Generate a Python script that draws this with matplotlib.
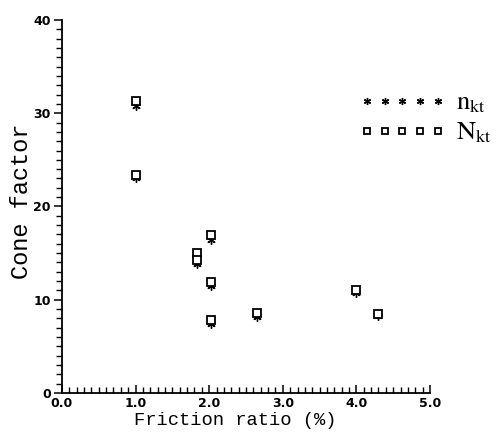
import numpy as np
import matplotlib
matplotlib.use("Agg")
import matplotlib.pyplot as plt
from matplotlib.ticker import MultipleLocator, FormatStrFormatter

plt.rcParams["mathtext.fontset"] = "stix"

# values
friction_ratio = [1.0, 1.0, 1.83, 1.83, 2.02, 2.02, 2.02, 2.65, 4.0, 4.29]
N_kt = [31.3, 23.4, 15.0, 14.3, 16.9, 11.9, 7.8, 8.6, 11.0, 8.5]
n_kt = [30.8, 23.0, 14.5, 13.8, 16.4, 11.5, 7.4, 8.2, 10.7, 8.3]

fig = plt.figure(figsize=(4.97, 4.34), dpi=100)
ax = fig.add_axes([0.1247, 0.0945, 0.7405, 0.8595])

asterisk = (6, 2, 0)
ax.plot(friction_ratio, n_kt, linestyle="none", marker=asterisk, ms=6,
        mec="black", mew=1.0, label=r"$\mathrm{n_{kt}}$")
ax.plot(friction_ratio, N_kt, linestyle="none", marker="s", ms=5.5,
        mfc="white", mec="black", mew=1.3, label=r"$\mathrm{N_{kt}}$")

ax.set_xlim(0, 5)
ax.set_ylim(0, 40)
for side in ("top", "right"):
    ax.spines[side].set_visible(False)
for side in ("left", "bottom"):
    ax.spines[side].set_linewidth(1.3)

ax.xaxis.set_major_locator(MultipleLocator(1.0))
ax.xaxis.set_minor_locator(MultipleLocator(0.1))
ax.xaxis.set_major_formatter(FormatStrFormatter("%.1f"))
ax.yaxis.set_major_locator(MultipleLocator(10))
ax.yaxis.set_minor_locator(MultipleLocator(1))
ax.tick_params(axis="x", which="major", direction="in", length=6, width=1.1, pad=3)
ax.tick_params(axis="x", which="minor", direction="in", length=4, width=1.0)
ax.tick_params(axis="y", which="major", direction="out", length=6, width=1.1, pad=2)
ax.tick_params(axis="y", which="minor", direction="out", length=4, width=1.0)
for lab in ax.get_xticklabels() + ax.get_yticklabels():
    lab.set_fontfamily("DejaVu Sans")
    lab.set_fontweight("bold")
    lab.set_fontsize(9)

ax.set_xlabel("Friction ratio (%)", family="Liberation Mono", fontsize=13.5)
ax.xaxis.set_label_coords(0.47, -0.05, transform=ax.transAxes)
ax.xaxis.label.set_va("top")
ax.set_ylabel("Cone factor", family="Liberation Mono", fontsize=17)
ax.yaxis.set_label_coords(-0.078, 0.515, transform=ax.transAxes)

ax.legend(loc="upper left", bbox_to_anchor=(0.722, 0.793), bbox_transform=fig.transFigure,
          numpoints=5, handlelength=3.3, handletextpad=0.4, frameon=False,
          fontsize=19, markerscale=0.85, borderpad=0, labelspacing=0.15, borderaxespad=0)

fig.savefig("out.png", dpi=100)
